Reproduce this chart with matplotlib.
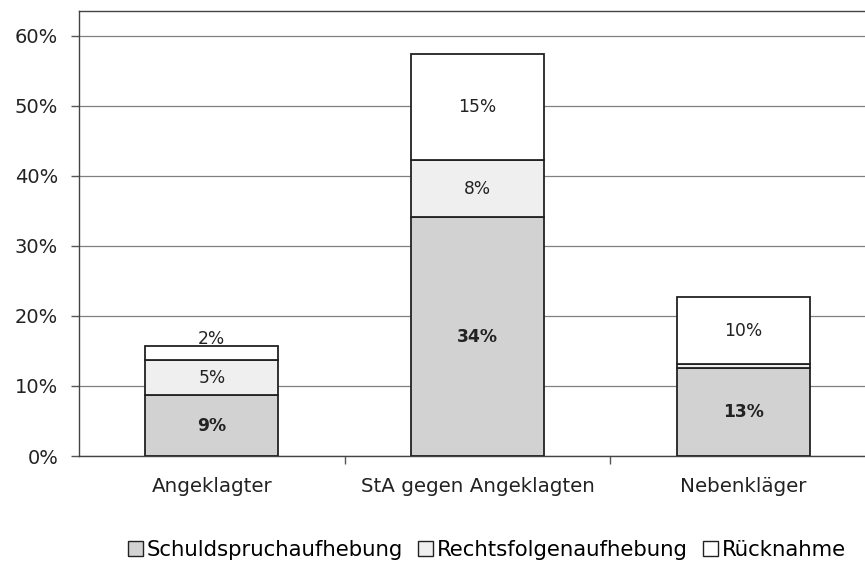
import matplotlib
matplotlib.use("Agg")
import matplotlib.pyplot as plt
import numpy as np

plt.rcParams['font.family'] = ['DejaVu Sans']

categories = ["Angeklagter", "StA gegen Angeklagten", "Nebenkläger"]
series_names = ["Schuldspruchaufhebung", "Rechtsfolgenaufhebung", "Rücknahme"]
schuld = [8.7, 34.1, 12.6]
rechtsfolgen = [5.0, 8.1, 0.5]
ruecknahme = [2.0, 15.1, 9.6]
schuld_labels = ["9%", "34%", "13%"]
rechtsfolgen_labels = ["5%", "8%", None]
ruecknahme_labels = ["2%", "15%", "10%"]
yticks = [0, 10, 20, 30, 40, 50, 60]

series = [schuld, rechtsfolgen, ruecknahme]
labels = [schuld_labels, rechtsfolgen_labels, ruecknahme_labels]
colors = ["#d2d2d2", "#efefef", "#ffffff"]
weights = ["bold", "normal", "normal"]

fig = plt.figure(figsize=(8.65, 5.67), dpi=100)
ax = fig.add_axes([79/865, 111/567, 797/865, 445/567])

x = np.arange(len(categories))
bottom = np.zeros(len(categories))
handles = []
for vals, labs, col, w, name in zip(series, labels, colors, weights, series_names):
    vals = np.array(vals)
    h = ax.bar(x, vals, width=0.5, bottom=bottom, color=col, edgecolor="#222222",
               linewidth=1.3, label=name, zorder=3)
    handles.append(h)
    for i, (v, lab) in enumerate(zip(vals, labs)):
        if lab is None:
            continue
        yc = bottom[i] + v / 2
        offset = 0
        if v < 3:
            offset = 10
        ax.annotate(lab, (x[i], yc), xytext=(0, offset), textcoords="offset points",
                    ha="center", va="center", fontsize=12.3, fontweight=w,
                    color="#222222", zorder=4)
    bottom += vals

ax.set_xlim(-0.5, 2.5)
ax.set_ylim(0, 63.5)
ax.set_yticks(yticks)
ax.set_yticklabels([f"{t}%" for t in yticks], fontsize=14, color="#222222")
ax.yaxis.grid(True, color="#808080", linewidth=0.9, zorder=0)
ax.set_axisbelow(True)

ax.set_xticks(x)
ax.set_xticklabels(categories, fontsize=14.3, color="#222222")
ax.tick_params(axis="x", length=0, pad=15)
ax.set_xticks([0.5, 1.5], minor=True)
ax.tick_params(axis="x", which="minor", length=6, color="#555555", width=1)
ax.tick_params(axis="y", length=6, color="#555555", width=1, pad=9)

for s in ["left", "top", "bottom"]:
    ax.spines[s].set_color("#444444")
    ax.spines[s].set_linewidth(1.0)
ax.spines["right"].set_visible(False)

fig.legend(handles=handles, labels=series_names, loc="center",
           bbox_to_anchor=(487/865, 1 - 550/567), ncol=3, frameon=False,
           fontsize=15.3, handlelength=0.7, handleheight=0.7,
           handletextpad=0.2, columnspacing=0.7, borderaxespad=0)
for p in fig.legends[0].legend_handles:
    p.set_linewidth(1.0)

fig.savefig("out.png", dpi=100)
